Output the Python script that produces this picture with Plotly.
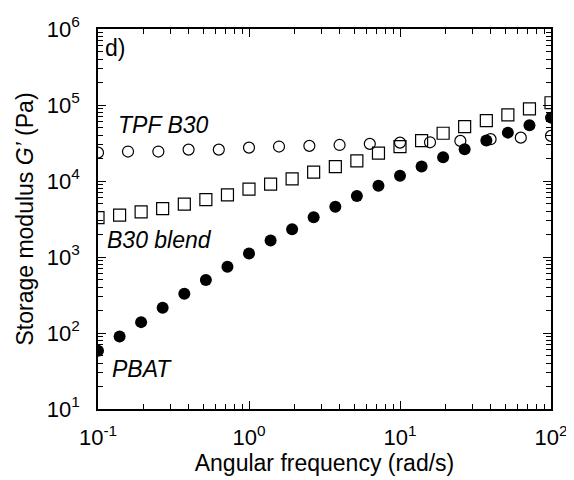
import plotly.graph_objects as go

# Angular frequency (rad/s)
freq_blend = [0.1, 0.139, 0.193, 0.268, 0.373, 0.518, 0.72, 1.0, 1.39, 1.93, 2.68,
              3.73, 5.18, 7.2, 10.0, 13.9, 19.3, 26.8, 37.3, 51.8, 72.0, 100.0]
freq_tpf = [0.1, 0.158, 0.251, 0.398, 0.631, 1.0, 1.58, 2.51, 3.98, 6.31,
            10.0, 15.8, 25.1, 39.8, 63.1, 100.0]

# Storage modulus G' (Pa)
g_pbat = [58.5, 90, 139, 215, 328, 497, 743, 1112, 1648, 2325, 3344,
          4570, 6370, 8630, 11700, 15500, 20600, 26200, 34000, 43300, 54200, 68200]
g_b30_blend = [3300, 3550, 3930, 4340, 4960, 5700, 6570, 7800, 9080, 10660, 13060,
               15490, 18400, 23200, 28400, 34000, 42500, 52000, 62300, 74000, 88700, 107000]
g_tpf_b30 = [23600, 24400, 24400, 25900, 25900, 27500, 28400, 29000, 29800, 30800,
             32000, 32300, 33700, 35500, 37200, 39200]

x_tickvals = [0.1, 1, 10, 100]
x_ticktext = ["10<sup>-1</sup>", "10<sup>0</sup>", "10<sup>1</sup>", "10<sup>2</sup>"]
y_tickvals = [1e1, 1e2, 1e3, 1e4, 1e5, 1e6]
y_ticktext = ["10<sup>1</sup>", "10<sup>2</sup>", "10<sup>3</sup>",
              "10<sup>4</sup>", "10<sup>5</sup>", "10<sup>6</sup>"]

FONT = "Liberation Sans, Arial, sans-serif"

fig = go.Figure()
fig.add_trace(go.Scatter(
    x=freq_tpf, y=g_tpf_b30, mode="markers", name="TPF B30",
    marker=dict(symbol="circle-open", size=11, color="black", line=dict(width=1.2))))
fig.add_trace(go.Scatter(
    x=freq_blend, y=g_b30_blend, mode="markers", name="B30 blend",
    marker=dict(symbol="square-open", size=12, color="black", line=dict(width=1.2))))
fig.add_trace(go.Scatter(
    x=freq_blend, y=g_pbat, mode="markers", name="PBAT",
    marker=dict(symbol="circle", size=12, color="black")))

axis_common = dict(
    type="log", showline=True, linecolor="black", linewidth=1.5, mirror="allticks",
    ticks="inside", ticklen=8, tickwidth=1, tickcolor="black",
    showgrid=False, zeroline=False, tickmode="array", automargin=False,
    tickfont=dict(family=FONT, size=22, color="black"),
    minor=dict(ticks="inside", ticklen=5, tickwidth=1, tickcolor="black",
               dtick="D1", showgrid=False),
)

fig.update_xaxes(
    **axis_common, range=[-1, 2], tickvals=x_tickvals, ticktext=x_ticktext,
    ticklabelstandoff=8,
    title=dict(text="Angular frequency (rad/s)", standoff=4,
               font=dict(family=FONT, size=23, color="black")))
fig.update_yaxes(
    **axis_common, range=[1, 6], tickvals=y_tickvals, ticktext=y_ticktext,
    ticklabelstandoff=12,
    title=dict(text="Storage modulus <i>G’</i> (Pa)", standoff=7,
               font=dict(family=FONT, size=23, color="black")))

ann_font = dict(family=FONT, size=23, color="black")
fig.add_annotation(text="d)", x=0.012, y=0.949, xref="paper", yref="paper",
                   xanchor="left", yanchor="middle", showarrow=False, font=ann_font)
fig.add_annotation(text="<i>TPF B30</i>", x=0.040, y=0.748, xref="paper", yref="paper",
                   xanchor="left", yanchor="middle", showarrow=False, font=ann_font)
fig.add_annotation(text="<i>B30 blend</i>", x=0.016, y=0.445, xref="paper", yref="paper",
                   xanchor="left", yanchor="middle", showarrow=False, font=ann_font)
fig.add_annotation(text="<i>PBAT</i>", x=0.027, y=0.106, xref="paper", yref="paper",
                   xanchor="left", yanchor="middle", showarrow=False, font=ann_font)

fig.update_layout(
    width=574, height=480,
    margin=dict(l=90, r=31, t=21, b=78.5),
    paper_bgcolor="white", plot_bgcolor="white",
    showlegend=False,
    font=dict(family=FONT, size=23, color="black"),
)

fig.write_html("out.html")
